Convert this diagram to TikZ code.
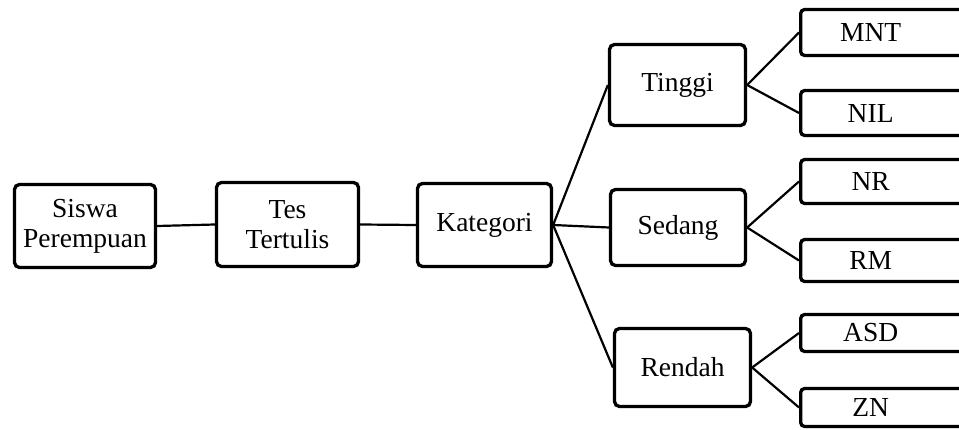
\documentclass[tikz,border=0pt]{standalone}
\usepackage{fontspec}
\setmainfont{Liberation Serif}
\newcommand{\leaftext}[1]{\makebox[140pt]{#1}}

\begin{document}
\begin{tikzpicture}
  [x=1pt,y=-1pt,
   box/.style={rectangle,draw,line width=3.3pt,rounded corners=5pt,
     align=center,inner sep=0pt,font=\fontsize{27.5}{30}\selectfont},
   leaf/.style={box,rounded corners=4pt,anchor=west,text width=200pt,align=left},
   link/.style={line width=2.2pt}]
  \useasboundingbox (0,0) rectangle (959,430);
  \clip (0,0) rectangle (959,430);

  \node[box,minimum width=141pt,minimum height=83pt] (s1) at (85,226) {Siswa\\Perempuan};
  \node[box,minimum width=142pt,minimum height=84pt] (t1) at (287.5,224.5) {Tes\\Tertulis};
  \node[box,minimum width=134pt,minimum height=83pt] (k1) at (484.5,225) {Kategori};

  \node[box,minimum width=136pt,minimum height=81pt] (c1) at (677.5,85) {Tinggi};
  \node[box,minimum width=135pt,minimum height=76pt] (c2) at (678,227.5) {Sedang};
  \node[box,minimum width=136pt,minimum height=78pt] (c3) at (682.5,367.5) {Rendah};

  \node[leaf,minimum height=46pt] (l1) at (799,32.5) {\leaftext{MNT}};
  \node[leaf,minimum height=45pt] (l2) at (799,113) {\leaftext{NIL}};
  \node[leaf,minimum height=44pt] (l3) at (799,181.5) {\leaftext{NR}};
  \node[leaf,minimum height=42pt] (l4) at (799,260.5) {\leaftext{RM}};
  \node[leaf,minimum height=37pt] (l5) at (799,333) {\leaftext{ASD}};
  \node[leaf,minimum height=38pt] (l6) at (799,407.5) {\leaftext{ZN}};

  \foreach \from/\to in {
    s1/t1,t1/k1,
    k1/c1,k1/c2,k1/c3,
    c1/l1,c1/l2,
    c2/l3,c2/l4,
    c3/l5,c3/l6}
  \draw[link] (\from.east) -- (\to.west);
\end{tikzpicture}
\end{document}
